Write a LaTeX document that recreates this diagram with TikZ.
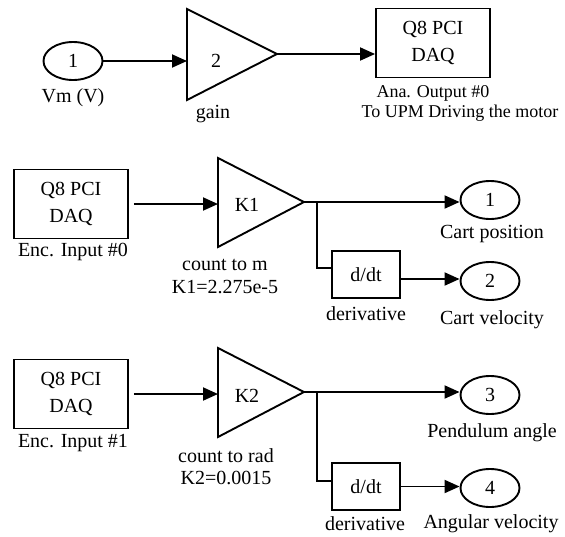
\documentclass[tikz,border=0pt]{standalone}
\usepackage{fontspec}
\setmainfont{Liberation Serif}
\usetikzlibrary{arrows.meta,shapes.geometric}
\begin{document}
\begin{tikzpicture}[x=1pt,y=-1pt,line width=1.9pt,
  every node/.style={font=\fontsize{20}{23}\selectfont, inner sep=0pt},
  small/.style={font=\fontsize{18}{21}\selectfont},
  port/.style={draw, ellipse, minimum width=59pt, minimum height=38pt},
  daq/.style={draw, rectangle, minimum width=114pt, minimum height=69pt, align=center, font=\fontsize{20}{27}\selectfont},
  ddt/.style={draw, rectangle, minimum width=68pt, minimum height=47pt},
  arr/.style={-{Triangle[length=15pt,width=13pt]}}
]
\path[use as bounding box] (0,0) rectangle (565,536);
% ---------- top row ----------
\node[port] (in1) at (73,61) {1};
\node (vm) at (73,98) {Vm (V)};
\coordinate (g0a) at (187,9);
\coordinate (g0b) at (187,100);
\coordinate (g0o) at (277,54);
\coordinate (g0i) at (187,61);
\draw (g0a) -- (g0o) -- (g0b) -- cycle;
\node (g0t) at (216,61) {2};
\node (g0l) at (213,114) {gain};
\node[daq] (ao) at (433,43) {Q8 PCI\\DAQ};
\node[small] (aol1) at (433,93) {Ana. Output \#0};
\node[small] (aol2) at (460,113) {To UPM Driving the motor};
\draw[arr] (in1) -- (g0i);
\draw[arr] (g0o) -- (g0o -| ao.west);
% ---------- row 2 ----------
\node[daq] (e0) at (71,204) {Q8 PCI\\DAQ};
\node (e0l) at (73,252) {Enc. Input \#0};
\coordinate (k1a) at (218,158);
\coordinate (k1b) at (218,247);
\coordinate (k1o) at (304,202);
\coordinate (k1i) at (218,204);
\draw (k1a) -- (k1o) -- (k1b) -- cycle;
\node (k1t) at (247,205) {K1};
\node (k1l1) at (225,265) {count to m};
\node (k1l2) at (225,287) {K1=2.275e-5};
\node[port] (o1) at (490,200) {1};
\node (o1l) at (492,234) {Cart position};
\coordinate (b1) at (317,202);
\node[ddt] (d1) at (366,274.5) {d/dt};
\node[port] (o2) at (490,281) {2};
\node (dl1) at (366,314) {derivative};
\node (o2l) at (492,320) {Cart velocity};
\draw[arr] ([xshift=5pt]e0.east) -- (k1i);
\draw[arr] (k1o) -- (k1o -| o1.west);
\draw (b1) |- ([yshift=6.5pt]d1.west);
\draw[arr] ([yshift=-4.5pt]d1.east) -- ([yshift=-4.5pt]d1.east -| o2.west);
% ---------- row 3 ----------
\node[daq] (e1) at (71,394) {Q8 PCI\\DAQ};
\node (e1l) at (73,443) {Enc. Input \#1};
\coordinate (k2a) at (218,348);
\coordinate (k2b) at (218,437);
\coordinate (k2o) at (304,392);
\coordinate (k2i) at (218,394);
\draw (k2a) -- (k2o) -- (k2b) -- cycle;
\node (k2t) at (247,396) {K2};
\node (k2l1) at (226,456) {count to rad};
\node (k2l2) at (226,478) {K2=0.0015};
\node[port] (o3) at (490,395) {3};
\node (o3l) at (492,433) {Pendulum angle};
\coordinate (b2) at (317,392);
\node[ddt] (d2) at (366,486.5) {d/dt};
\node[port] (o4) at (490,488) {4};
\node (dl2) at (365,524) {derivative};
\node (o4l) at (491,524) {Angular velocity};
\draw[arr] ([xshift=5pt]e1.east) -- (k2i);
\draw[arr] (k2o) -- (k2o -| o3.west);
\draw (b2) |- ([yshift=5.5pt]d2.west);
\draw[arr] (d2.east) -- (d2.east -| o4.west);
\end{tikzpicture}
\end{document}
